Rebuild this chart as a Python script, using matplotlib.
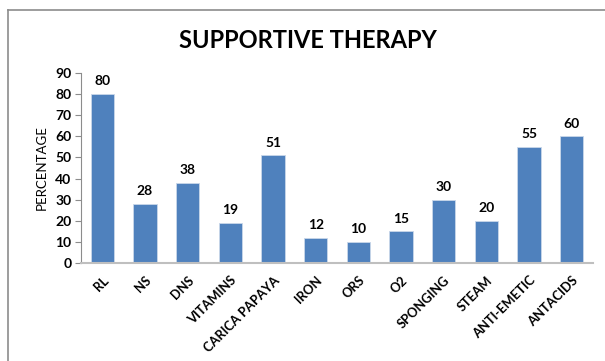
import numpy as np
import matplotlib.pyplot as plt
from matplotlib.lines import Line2D

categories = ['RL', 'NS', 'DNS', 'VITAMINS', 'CARICA PAPAYA', 'IRON', 'ORS',
              'O2', 'SPONGING', 'STEAM', 'ANTI-EMETIC', 'ANTACIDS']
percentages = [80, 28, 38, 19, 51, 12, 10, 15, 30, 20, 55, 60]
y_ticks = [0, 10, 20, 30, 40, 50, 60, 70, 80, 90]

plt.rcParams['font.family'] = ['Lato', 'DejaVu Sans']

W, H = 605, 361
fig = plt.figure(figsize=(W / 100, H / 100), dpi=100)

# chart frame: only top and left edges visible
fig.add_artist(Line2D([8 / W, 8 / W], [0, 1 - 10 / H], transform=fig.transFigure,
                      color='#8c8c8c', lw=1.2))
fig.add_artist(Line2D([8 / W, 1], [1 - 10 / H, 1 - 10 / H], transform=fig.transFigure,
                      color='#8c8c8c', lw=1.2))

ax = fig.add_axes([81 / W, 1 - 263 / H, (593 - 81) / W, (263 - 73) / H])
x = np.arange(len(categories))
bars = ax.bar(x, percentages, width=0.54, color='#4f81bd', edgecolor='#c9d7ea', linewidth=0.6)

for xi, v in zip(x, percentages):
    ax.text(xi, v + 3.2, str(v), ha='center', va='bottom', fontsize=10, fontweight='bold')

ax.set_xlim(-0.5, len(categories) - 0.5)
ax.set_ylim(0, 90)
ax.set_yticks(y_ticks)
ax.set_yticklabels([str(t) for t in y_ticks], fontsize=10, fontweight='bold')
ax.set_xticks(x)
ax.set_xticklabels(categories, rotation=45, ha='right', rotation_mode='anchor',
                   fontsize=9.3, fontweight='bold')
ax.tick_params(axis='x', length=0, pad=8)
ax.tick_params(axis='y', length=4, color='#8c8c8c', pad=3)

for side in ['top', 'right']:
    ax.spines[side].set_visible(False)
ax.spines['left'].set_color('#8c8c8c')
ax.spines['bottom'].set_color('#bfbfbf')
ax.spines['bottom'].set_linewidth(1.5)

ax.set_ylabel('PERCENTAGE', fontsize=9.5, labelpad=5)
fig.text(308 / W, 1 - 40 / H, 'SUPPORTIVE THERAPY', ha='center', va='center',
         fontsize=17, fontweight='bold')

fig.savefig('out.png', dpi=100)
